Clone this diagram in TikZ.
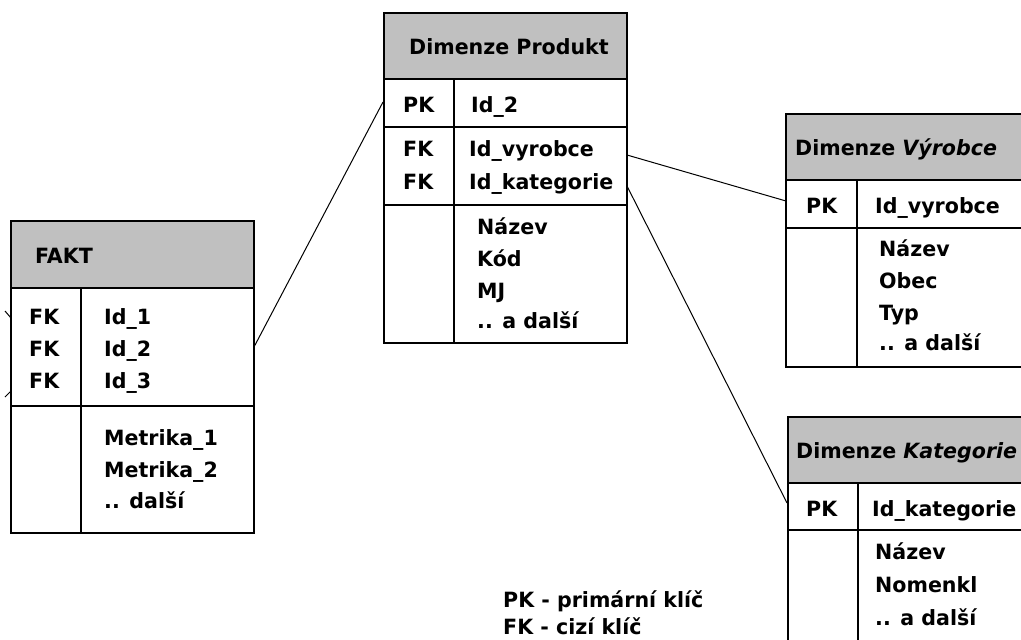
\documentclass[tikz,border=0pt]{standalone}
\usepackage{fontspec}
\setmainfont{DejaVu Sans}[FakeStretch=0.98]
\begin{document}
\begin{tikzpicture}[x=1pt,y=-1pt,
  tbl/.style={draw=black,line width=2pt},
  hdr/.style={fill=hdrgray,draw=black,line width=2pt},
  sep/.style={draw=black,line width=1.6pt},
  conn/.style={draw=black,line width=1pt},
  txt/.style={anchor=base west,inner sep=0pt,font=\fontsize{21}{24}\selectfont\bfseries},
  ttl/.style={anchor=base west,inner sep=0pt,font=\fontsize{21}{24}\selectfont\bfseries},
]
\definecolor{hdrgray}{RGB}{192,192,192}
\useasboundingbox (0,0) rectangle (1021,640);
% ---------- FAKT ----------
\draw[hdr] (11,221) rectangle (254,288);
\draw[tbl] (11,288) rectangle (254,533);
\draw[sep] (81,288) -- (81,533);
\draw[sep] (11,406) -- (254,406);
\node[ttl] (faktT) at (35,263) {FAKT};
\node[txt] (fk1) at (29,324) {FK};
\node[txt] (fk2) at (29,356) {FK};
\node[txt] (fk3) at (29,388) {FK};
\node[txt] (id1) at (104,324) {Id\_1};
\node[txt] (id2) at (104,356) {Id\_2};
\node[txt] (id3) at (104,388) {Id\_3};
\node[txt] (m1) at (104,445) {Metrika\_1};
\node[txt] (m2) at (104,477) {Metrika\_2};
\node[txt] (m3) at (104,508) {.. další};
% ---------- Dimenze Produkt ----------
\draw[hdr] (384,13) rectangle (627,79);
\draw[tbl] (384,79) rectangle (627,343);
\draw[sep] (454,79) -- (454,343);
\draw[sep] (384,127) -- (627,127);
\draw[sep] (384,205) -- (627,205);
\node[ttl] (prodT) at (409,54) {Dimenze Produkt};
\node[txt] (ppk) at (403,112) {PK};
\node[txt] (pid2) at (471,112) {Id\_2};
\node[txt] (pfk1) at (403,156) {FK};
\node[txt] (pfk2) at (403,189) {FK};
\node[txt] (pvyr) at (469,156) {Id\_vyrobce};
\node[txt] (pkat) at (469,189) {Id\_kategorie};
\node[txt] (pn) at (477,234) {Název};
\node[txt] (pk) at (477,266) {Kód};
\node[txt] (pmj) at (477,298) {MJ};
\node[txt] (pdal) at (477,328) {.. a další};
% ---------- Dimenze Vyrobce ----------
\draw[hdr] (786,114) rectangle (1030,180);
\draw[tbl] (786,180) rectangle (1030,367);
\draw[sep] (857,180) -- (857,367);
\draw[sep] (786,228) -- (1030,228);
\node[ttl] (vyrT) at (795,155) {Dimenze \textit{Výrobce}};
\node[txt] (vpk) at (806,213) {PK};
\node[txt] (vid) at (875,213) {Id\_vyrobce};
\node[txt] (vn) at (879,256) {Název};
\node[txt] (vo) at (879,288) {Obec};
\node[txt] (vt) at (879,320) {Typ};
\node[txt] (vd) at (879,350) {.. a další};
% ---------- Dimenze Kategorie ----------
\draw[hdr] (788,417) rectangle (1030,483);
\draw[tbl] (788,483) rectangle (1030,660);
\draw[sep] (858,483) -- (858,660);
\draw[sep] (788,530) -- (1030,530);
\node[ttl] (katT) at (796,458) {Dimenze \textit{Kategorie}};
\node[txt] (kpk) at (806,516) {PK};
\node[txt] (kid) at (872,516) {Id\_kategorie};
\node[txt] (kn) at (875,559) {Název};
\node[txt] (kno) at (875,592) {Nomenkl};
\node[txt] (kd) at (875,625) {.. a další};
% ---------- legend ----------
\node[txt] (lpk) at (503,607) {PK - primární klíč};
\node[txt] (lfk) at (503,634) {FK - cizí klíč};
% ---------- connectors ----------
\coordinate (fR) at (254,347);
\coordinate (pL) at (383,102);
\coordinate (pR1) at (627,155);
\coordinate (vL) at (786,201);
\coordinate (pR2) at (627,186);
\coordinate (kL) at (787,503);
\coordinate (s1a) at (5,311);
\coordinate (s1b) at (11,318);
\coordinate (s2a) at (5,397);
\coordinate (s2b) at (11,391);
\draw[conn] (fR) -- (pL);
\draw[conn] (pR1) -- (vL);
\draw[conn] (pR2) -- (kL);
\draw[conn] (s1a) -- (s1b);
\draw[conn] (s2a) -- (s2b);
\end{tikzpicture}
\end{document}
